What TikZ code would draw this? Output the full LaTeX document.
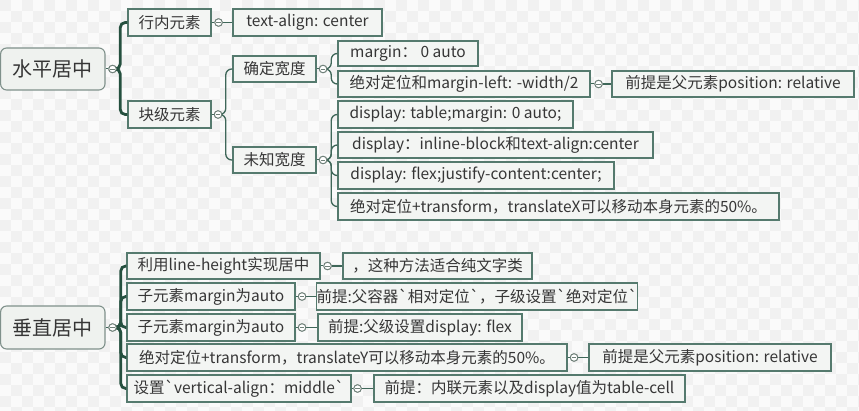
\documentclass[tikz,border=0pt]{standalone}
\usepackage{fontspec}
\newfontfamily\cjk{Noto Sans CJK SC}
\definecolor{boxc}{HTML}{557A6E}
\definecolor{boxf}{HTML}{F3F5F3}
\definecolor{rootc}{HTML}{7F918B}
\definecolor{rootf}{HTML}{EFF2EF}
\definecolor{mainc}{HTML}{25503F}
\definecolor{subc}{HTML}{3F6759}
\definecolor{knobc}{HTML}{6F8079}
\definecolor{txt}{HTML}{363636}
\definecolor{bgl}{HTML}{FAFAFA}
\definecolor{bgd}{HTML}{F1F1F1}
\newcommand\bx[6]{\node[box, minimum width={(#4-#2)*1pt}, minimum height={(#5-#3)*1pt}] (#1) at ({(#2+#4)/2},{(#3+#5)/2}) {#6};}
\begin{document}
\begin{tikzpicture}[x=1pt,y=-1pt,
  box/.style={draw=boxc, fill=boxf, line width=1.1pt, inner sep=0pt, text=txt, font=\cjk\fontsize{15.5}{19}\selectfont},
  rootbox/.style={box, draw=rootc, fill=rootf, rounded corners=6pt, font=\cjk\fontsize{20}{24}\selectfont},
  knob/.style={circle, draw=knobc, fill=white, line width=0.9pt, minimum size=7.5pt, inner sep=0pt,
    path picture={\draw[knobc, line width=0.8pt] ([xshift=-2.2pt]path picture bounding box.center) -- ([xshift=2.2pt]path picture bounding box.center);}},
  mainline/.style={draw=mainc, line width=2.8pt, rounded corners=5pt},
  subline/.style={draw=subc, line width=1.3pt, rounded corners=6pt}
]
\useasboundingbox (0,0) rectangle (859,411);
% background checker
\fill[bgl] (0,0) rectangle (859,411);
\begin{scope}
\clip (0,0) rectangle (859,411);
\foreach \i in {0,2,...,78} {\foreach \j in {0,2,...,38} {
  \fill[bgd] (\i*11,\j*11) rectangle ++(11,11);
  \fill[bgd] (\i*11+11,\j*11+11) rectangle ++(11,11);
}}
\end{scope}

% ---------- 水平居中 ----------
\node[rootbox, minimum width=104.4pt, minimum height=42pt] (r1) at (52.8,69) {水平居中};
\bx{a1}{128}{9}{211}{36}{行内元素}
\bx{a1c}{233}{9}{382}{36}{text-align: center}
\bx{a2}{128}{101}{211}{128}{块级元素}
\bx{b1}{233}{56}{316}{82}{确定宽度}
\bx{b2}{233}{147}{316}{173}{未知宽度}
\bx{c1}{338}{41}{478}{66}{margin： 0 auto}
\bx{c2}{338}{71}{590}{97}{绝对定位和margin-left: -width/2}
\bx{c2n}{612}{71}{854}{97}{前提是父元素position: relative}
\bx{d1}{338}{101}{573}{128}{display: table;margin: 0 auto;}
\bx{d2}{338}{132}{653}{158}{display：inline-block和text-align:center}
\bx{d3}{338}{162}{614}{189}{display: flex;justify-content:center;}
\bx{d4}{338}{193}{779}{220}{绝对定位+transform，translateX可以移动本身元素的50\%。}

% knobs
\node[knob] (kr1) at ([xshift=7pt]r1.east) {};
\node[knob] (ka1) at ([xshift=7pt]a1.east) {};
\node[knob] (ka2) at ([xshift=6.5pt]a2.east) {};
\node[knob] (kb1) at ([xshift=6.5pt]b1.east) {};
\node[knob] (kb2) at ([xshift=6.5pt]b2.east) {};
\node[knob] (kc2) at ([xshift=8pt]c2.east) {};

% ---------- 垂直居中 ----------
\node[rootbox, minimum width=104.4pt, minimum height=43pt] (r2) at (52.8,327.5) {垂直居中};
\bx{e1}{127}{253}{320}{279}{利用line-height实现居中}
\bx{e1n}{343}{253}{532}{279}{，这种方法适合纯文字类}
\bx{e2}{127}{283}{295}{310}{子元素margin为auto}
\bx{e2n}{318}{283}{636}{310}{前提:父容器`相对定位`，子级设置`绝对定位`}
\bx{e3}{127}{314}{295}{341}{子元素margin为auto}
\bx{e3n}{318}{314}{522}{341}{前提:父级设置display: flex}
\bx{e4}{127}{344}{567}{371}{绝对定位+transform，translateY可以移动本身元素的50\%。}
\bx{e4n}{589}{344}{831}{371}{前提是父元素position: relative}
\bx{e5}{127}{375}{351}{402}{设置`vertical-align：middle`}
\bx{e5n}{374}{375}{685}{402}{前提：内联元素以及display值为table-cell}

\node[knob] (kr2) at ([xshift=7pt]r2.east) {};
\node[knob] (ke1) at ([xshift=7pt]e1.east) {};
\node[knob] (ke2) at ([xshift=6.5pt]e2.east) {};
\node[knob] (ke3) at ([xshift=6.5pt]e3.east) {};
\node[knob] (ke4) at ([xshift=6.5pt]e4.east) {};
\node[knob] (ke5) at ([xshift=6pt]e5.east) {};

% ---------- connectors ----------
\draw[subc, line width=1pt] (r1.east) -- (kr1.west);
\draw[mainline] (kr1.east) -- ++(3.5,0) |- (a1.west);
\draw[mainline] (kr1.east) -- ++(3.5,0) |- (a2.west);
\draw[subc, line width=1pt] (a1.east) -- (ka1.west);
\draw[subline] (ka1.east) -- (a1c.west);
\draw[subc, line width=1pt] (a2.east) -- (ka2.west);
\draw[subline] (ka2.east) -- ++(3.5,0) |- (b1.west);
\draw[subline] (ka2.east) -- ++(3.5,0) |- (b2.west);
\draw[subc, line width=1pt] (b1.east) -- (kb1.west);
\draw[subline] (kb1.east) -- ++(4,0) |- (c1.west);
\draw[subline] (kb1.east) -- ++(4,0) |- (c2.west);
\draw[subc, line width=1pt] (c2.east) -- (kc2.west);
\draw[subline] (kc2.east) -- (c2n.west);
\draw[subc, line width=1pt] (b2.east) -- (kb2.west);
\foreach \c in {d1,d2,d3,d4} {\draw[subline] (kb2.east) -- ++(4,0) |- (\c.west);}

\draw[subc, line width=1pt] (r2.east) -- (kr2.west);
\foreach \c in {e1,e2,e3,e4,e5} {\draw[mainline] (kr2.east) -- ++(4,0) |- (\c.west);}
\draw[subc, line width=1pt] (e1.east) -- (ke1.west);
\draw[subline] (ke1.east) -- (e1n.west);
\draw[subc, line width=1pt] (e2.east) -- (ke2.west);
\draw[subline] (ke2.east) -- (e2n.west);
\draw[subc, line width=1pt] (e3.east) -- (ke3.west);
\draw[subline] (ke3.east) -- (e3n.west);
\draw[subc, line width=1pt] (e4.east) -- (ke4.west);
\draw[subline] (ke4.east) -- (e4n.west);
\draw[subc, line width=1pt] (e5.east) -- (ke5.west);
\draw[subline] (ke5.east) -- (e5n.west);

% redraw knobs on top of the connectors
\foreach \k in {kr1,ka1,ka2,kb1,kb2,kc2,kr2,ke1,ke2,ke3,ke4,ke5} {
  \node[knob] at (\k) {};
}
\end{tikzpicture}
\end{document}
